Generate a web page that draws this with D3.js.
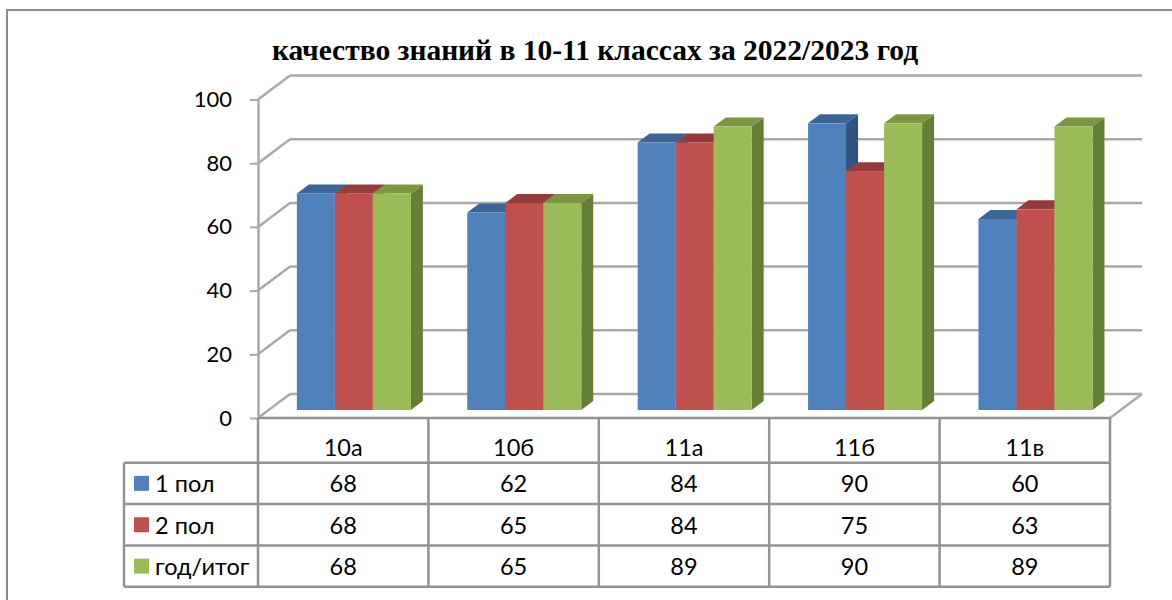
<!DOCTYPE html>
<html><head><meta charset="utf-8">
<script src="https://cdn.jsdelivr.net/npm/d3@7"></script>
<style>body{margin:0;background:#fff;} svg{display:block;}</style>
</head><body>
<svg id="c" width="1172" height="600"></svg>
<script>
const title = "качество знаний в 10-11 классах за 2022/2023 год";
const categories = ["10а", "10б", "11а", "11б", "11в"];
const seriesNames = ["1 пол", "2 пол", "год/итог"];
const values1 = [68, 62, 84, 90, 60];
const values2 = [68, 65, 84, 75, 63];
const values3 = [68, 65, 89, 90, 89];
const yTicks = [0, 20, 40, 60, 80, 100];

(function () {
const seriesValues = [values1, values2, values3];
const colors = [
  {front:"#4f81bd", top:"#3c6595", side:"#2f5481"},
  {front:"#c0504d", top:"#943c3a", side:"#8a3533"},
  {front:"#9bbb59", top:"#7b9642", side:"#677f34"}
];

const svg = d3.select("#c");
svg.append("rect").attr("x",7).attr("y",10).attr("width",1200).attr("height",620)
  .attr("fill","none").attr("stroke","#8c8c8c").attr("stroke-width",2);

const pLeft = 258, pRight = 1110, pBottom = 418, pTop = 99.5;
const D = {dx: 32, dy: 24};
const fFront = 1/3, fBar = 0.375;

const x = d3.scaleBand().domain(categories).range([pLeft, pRight]).paddingInner(0).paddingOuter(0);
const xs = d3.scaleBand().domain(seriesNames).range([0, x.bandwidth()]).paddingInner(0).paddingOuter(0.742);
const y = d3.scaleLinear().domain([0, 100]).range([pBottom, pTop]);

const grid = svg.append("g");
const gc = "#a9a9a9";
yTicks.forEach(v => {
  const yy = y(v);
  grid.append("line").attr("x1", pLeft + D.dx).attr("x2", pRight + D.dx)
    .attr("y1", yy - D.dy).attr("y2", yy - D.dy).attr("stroke", gc).attr("stroke-width", 2.5);
  grid.append("line").attr("x1", pLeft).attr("x2", pLeft + D.dx)
    .attr("y1", yy).attr("y2", yy - D.dy).attr("stroke", gc).attr("stroke-width", 2.5);
});
grid.append("line").attr("x1", pRight).attr("x2", pRight + D.dx)
  .attr("y1", y(0)).attr("y2", y(0) - D.dy).attr("stroke", gc).attr("stroke-width", 2.5);

const axis = d3.axisLeft(y).tickValues(yTicks).tickSize(8).tickSizeOuter(0).tickPadding(18);
const ag = svg.append("g").attr("transform", `translate(${pLeft},0)`).call(axis);
ag.select(".domain").attr("stroke", gc).attr("stroke-width", 2.5);
ag.selectAll(".tick line").attr("stroke", gc).attr("stroke-width", 2);
ag.selectAll(".tick text").attr("font-family", "Lato, 'Open Sans', sans-serif")
  .attr("font-size", 22).attr("fill", "#000");

const bdx = D.dx * fBar, bdy = D.dy * fBar;
const offX = D.dx * fFront, offY = D.dy * fFront;
const bars = svg.append("g");
categories.forEach((c, ci) => {
  seriesNames.forEach((s, si) => {
    const v = seriesValues[si][ci];
    const x0 = x(c) + xs(s) + offX;
    const w = xs.bandwidth();
    const y0 = y(0) - offY;
    const yt = y(v) - offY;
    const col = colors[si];
    bars.append("polygon").attr("points", [
      [x0 + w, yt], [x0 + w + bdx, yt - bdy], [x0 + w + bdx, y0 - bdy], [x0 + w, y0]
    ].map(p => p.join(",")).join(" ")).attr("fill", col.side);
    bars.append("polygon").attr("points", [
      [x0, yt], [x0 + bdx, yt - bdy], [x0 + w + bdx, yt - bdy], [x0 + w, yt]
    ].map(p => p.join(",")).join(" ")).attr("fill", col.top);
    bars.append("rect").attr("x", x0).attr("y", yt).attr("width", w).attr("height", y0 - yt)
      .attr("fill", col.front);
  });
});

svg.append("text").attr("x", 595).attr("y", 60).attr("text-anchor", "middle")
  .attr("font-family", "'Liberation Serif', 'Times New Roman', serif").attr("font-weight", "bold")
  .attr("font-size", 29.5).attr("fill", "#000").text(title);

const tg = svg.append("g");
const tc = "#939393";
const rowTops = [462.7, 504, 545.5, 586.7];
const labelLeft = 124;
const tf = "Lato, 'Open Sans', sans-serif";
const tfs = 23.5;
tg.append("line").attr("x1", pLeft).attr("x2", pRight).attr("y1", pBottom).attr("y2", pBottom)
  .attr("stroke", tc).attr("stroke-width", 2.5);
rowTops.forEach(ry => {
  tg.append("line").attr("x1", labelLeft).attr("x2", pRight).attr("y1", ry).attr("y2", ry)
    .attr("stroke", tc).attr("stroke-width", 2.5);
});
const colEdges = categories.map(c => x(c)).concat([pRight]);
colEdges.forEach(cx => {
  tg.append("line").attr("x1", cx).attr("x2", cx).attr("y1", pBottom).attr("y2", rowTops[3])
    .attr("stroke", tc).attr("stroke-width", 2.5);
});
tg.append("line").attr("x1", labelLeft).attr("x2", labelLeft).attr("y1", rowTops[0]).attr("y2", rowTops[3])
  .attr("stroke", tc).attr("stroke-width", 2.5);

categories.forEach(c => {
  tg.append("text").attr("x", x(c) + x.bandwidth() / 2).attr("y", 447)
    .attr("text-anchor", "middle").attr("dominant-baseline", "central")
    .attr("font-family", tf).attr("font-size", tfs).attr("fill", "#000").text(c);
});
seriesNames.forEach((s, si) => {
  const cy = (rowTops[si] + rowTops[si + 1]) / 2;
  tg.append("rect").attr("x", 134).attr("y", cy - 7.5).attr("width", 15).attr("height", 15)
    .attr("fill", colors[si].front);
  tg.append("text").attr("x", 155).attr("y", cy).attr("dominant-baseline", "central")
    .attr("font-family", tf).attr("font-size", tfs).attr("fill", "#000").text(s);
  categories.forEach((c, ci) => {
    tg.append("text").attr("x", x(c) + x.bandwidth() / 2).attr("y", cy)
      .attr("text-anchor", "middle").attr("dominant-baseline", "central")
      .attr("font-family", tf).attr("font-size", tfs).attr("fill", "#000").text(seriesValues[si][ci]);
  });
});
})();
</script>
</body></html>
